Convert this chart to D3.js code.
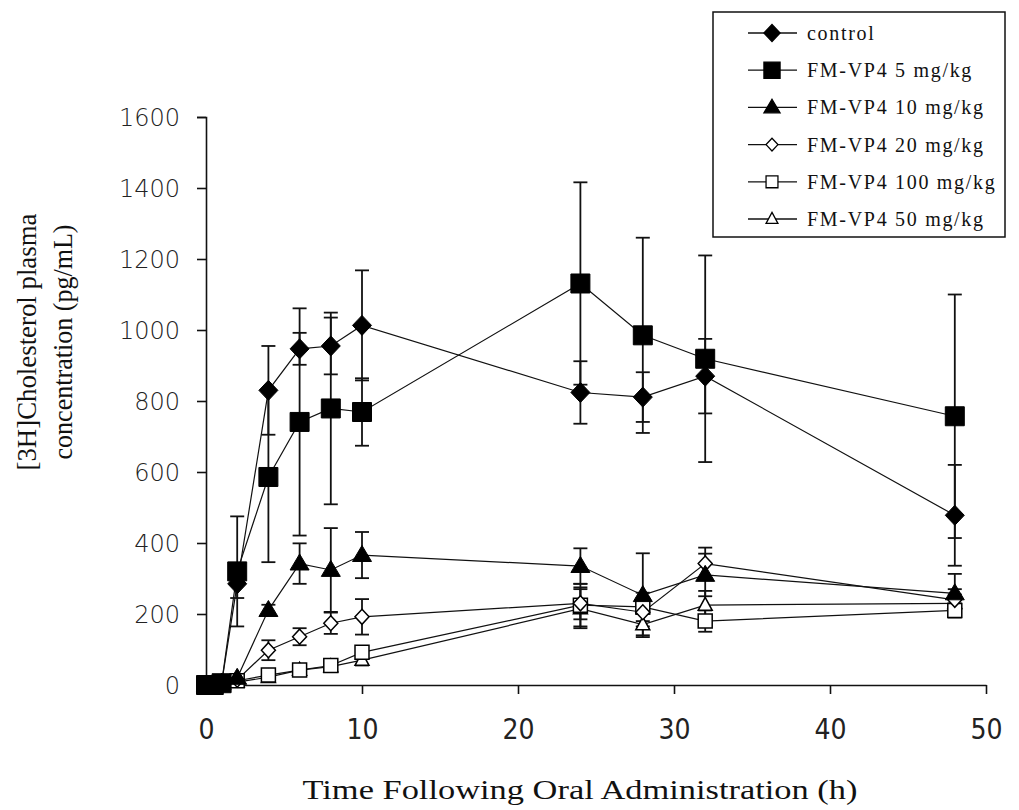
<!DOCTYPE html>
<html lang="en">
<head>
<meta charset="utf-8">
<title>[3H]Cholesterol plasma concentration</title>
<script src="https://cdn.jsdelivr.net/npm/d3@7"></script>
<style>
  body { margin: 0; background: #fff; }
  .ytick text { font-family: "DejaVu Sans", sans-serif; font-size: 24px; font-weight: 300; fill: #222; }
  .xtick text { font-family: "Liberation Sans Narrow", "DejaVu Sans Condensed", sans-serif; font-size: 28px; font-weight: 300; fill: #222; }
  .title { font-family: "Liberation Serif", serif; font-size: 27px; fill: #111; }
  .legend text { font-family: "Liberation Serif", serif; font-size: 20px; letter-spacing: 1.7px; fill: #111; }
</style>
</head>
<body>
<script>
// sampling times (h)
const times = [0, 0.5, 1, 2, 4, 6, 8, 10, 24, 28, 32, 48];

const seriesNames = ["control", "FM-VP4 5 mg/kg", "FM-VP4 10 mg/kg", "FM-VP4 20 mg/kg", "FM-VP4 100 mg/kg", "FM-VP4 50 mg/kg"];

// mean concentrations (pg/mL)
const control = [0, 0, 5, 285, 830, 947, 955, 1013, 824, 811, 870, 478];
const dose5   = [0, 0, 5, 320, 586, 741, 779, 769, 1131, 985, 919, 757];
const dose10  = [0, 0, 5, 20, 211, 342, 324, 366, 335, 253, 310, 258];
const dose20  = [0, 0, 3, 15, 98, 136, 174, 192, 230, 205, 342, 240];
const dose100 = [0, 0, 2, 12, 28, 42, 55, 92, 225, 220, 180, 210];
const dose50  = [0, 0, 2, 8, 22, 42, 52, 70, 215, 170, 225, 230];

// error bar half-lengths (pg/mL)
const controlErr = [0, 0, 0, 40, 125, 45, 80, 155, 88, 70, 105, 142];
const dose5Err   = [0, 0, 0, 155, 240, 320, 270, 95, 285, 275, 291, 343];
const dose10Err  = [0, 0, 0, 10, 15, 57, 118, 65, 50, 118, 60, 55];
const dose20Err  = [0, 0, 0, 5, 28, 24, 30, 50, 45, 40, 45, 30];
const dose100Err = [0, 0, 0, 5, 10, 10, 12, 15, 60, 40, 30, 20];
const dose50Err  = [0, 0, 0, 5, 8, 10, 12, 15, 55, 30, 40, 25];

const xTicks = [0, 10, 20, 30, 40, 50];
const yTicks = [0, 200, 400, 600, 800, 1000, 1200, 1400, 1600];

const series = [
  { name: seriesNames[0], vals: control, err: controlErr, shape: "diamond", filled: true },
  { name: seriesNames[1], vals: dose5, err: dose5Err, shape: "square", filled: true },
  { name: seriesNames[2], vals: dose10, err: dose10Err, shape: "triangle", filled: true },
  { name: seriesNames[3], vals: dose20, err: dose20Err, shape: "diamond", filled: false },
  { name: seriesNames[4], vals: dose100, err: dose100Err, shape: "square", filled: false },
  { name: seriesNames[5], vals: dose50, err: dose50Err, shape: "triangle", filled: false }
];

const W = 1019, H = 810;
const svg = d3.select("body").append("svg").attr("width", W).attr("height", H);

const x = d3.scaleLinear().domain([0, 50]).range([206, 986]);
const y = d3.scaleLinear().domain([0, 1600]).range([685, 117]);

// marker path around (0,0)
function markerPath(shape, filled) {
  const s = filled ? 9.5 : 7;
  if (shape === "diamond") return `M0,${-s - 0.5}L${s},0L0,${s + 0.5}L${-s},0Z`;
  if (shape === "square") return `M${-s},${-s}H${s}V${s}H${-s}Z`;
  const h = filled ? 16 : 13;
  return `M0,${-h * 0.6}L${s},${h * 0.4}L${-s},${h * 0.4}Z`;
}

// axes
const yAxis = svg.append("g").attr("class", "ytick")
  .attr("transform", `translate(${x(0)},0)`)
  .call(d3.axisLeft(y).tickValues(yTicks).tickSize(9).tickPadding(17).tickFormat(d3.format("d")));
const xAxis = svg.append("g").attr("class", "xtick")
  .attr("transform", `translate(0,${y(0)})`)
  .call(d3.axisBottom(x).tickValues(xTicks).tickSize(9).tickPadding(32).tickSizeOuter(0));
[yAxis, xAxis].forEach(g => {
  g.select(".domain").attr("stroke", "#111").attr("stroke-width", 1.6);
  g.selectAll(".tick line").attr("stroke", "#111").attr("stroke-width", 1.6);
  g.attr("font-size", null).attr("font-family", null);
});
yAxis.selectAll(".tick text").attr("dy", "0.36em");
xAxis.selectAll(".tick text").attr("dy", "0.45em");

// lines, error bars and markers
const line = d3.line().x((d, i) => x(times[i])).y(d => y(d));
const plot = svg.append("g");

series.forEach(s => {
  plot.append("path")
    .attr("d", line(s.vals))
    .attr("fill", "none")
    .attr("stroke", "#111")
    .attr("stroke-width", 1.2);
});

series.forEach(s => {
  const g = plot.append("g");
  s.vals.forEach((v, i) => {
    if (!s.err[i]) return;
    const cx = x(times[i]);
    const y1 = y(v + s.err[i]), y2 = y(v - s.err[i]);
    g.append("line").attr("x1", cx).attr("x2", cx).attr("y1", y1).attr("y2", y2)
      .attr("stroke", "#111").attr("stroke-width", 1.8);
    [y1, y2].forEach(yy => g.append("line")
      .attr("x1", cx - 7).attr("x2", cx + 7).attr("y1", yy).attr("y2", yy)
      .attr("stroke", "#111").attr("stroke-width", 1.8));
  });
});

series.slice().reverse().forEach(s => {
  plot.append("g").selectAll("path")
    .data(s.vals)
    .join("path")
    .attr("transform", (d, i) => `translate(${x(times[i])},${y(d)})`)
    .attr("d", markerPath(s.shape, s.filled))
    .attr("fill", s.filled ? "#000" : "#fff")
    .attr("stroke", "#000")
    .attr("stroke-width", s.filled ? 1 : 1.5);
});

// axis titles
svg.append("text").attr("class", "title")
  .attr("x", 580).attr("y", 799)
  .attr("text-anchor", "middle")
  .attr("textLength", 555).attr("lengthAdjust", "spacingAndGlyphs")
  .text("Time Following Oral Administration (h)");

const yTitle = svg.append("g").attr("transform", "translate(36,342) rotate(-90)");
yTitle.append("text").attr("class", "title").attr("text-anchor", "middle")
  .attr("textLength", 257).attr("lengthAdjust", "spacingAndGlyphs")
  .text("[3H]Cholesterol plasma");
yTitle.append("text").attr("class", "title").attr("text-anchor", "middle").attr("y", 36)
  .attr("textLength", 235).attr("lengthAdjust", "spacingAndGlyphs")
  .text("concentration (pg/mL)");

// legend
const legend = svg.append("g").attr("class", "legend");
legend.append("rect")
  .attr("x", 713).attr("y", 12).attr("width", 292).attr("height", 225)
  .attr("fill", "#fff").attr("stroke", "#111").attr("stroke-width", 1.5);
series.forEach((s, i) => {
  const ry = 33 + i * 37.2;
  legend.append("line").attr("x1", 748).attr("x2", 797).attr("y1", ry).attr("y2", ry)
    .attr("stroke", "#111").attr("stroke-width", 1.3);
  legend.append("path")
    .attr("transform", `translate(772,${ry}) scale(0.85)`)
    .attr("d", markerPath(s.shape, s.filled))
    .attr("fill", s.filled ? "#000" : "#fff")
    .attr("stroke", "#000").attr("stroke-width", 1.5);
  legend.append("text").attr("x", 807).attr("y", ry + 7).text(s.name);
});
</script>
</body>
</html>
